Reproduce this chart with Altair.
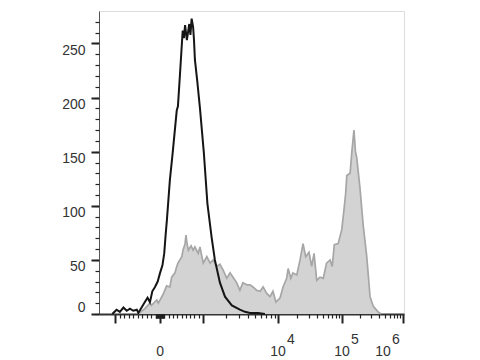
import math
import altair as alt
import pandas as pd

# ---- data (display channel 0..1024, event counts) ----
BLACK_CH = [45, 48, 59, 70, 82, 93, 104, 115, 127, 132, 143, 154, 163, 171, 179, 188, 197, 205, 213, 219,
            224, 228, 238, 247, 261, 265, 272, 281, 285, 289, 295, 303, 307, 311, 316, 319, 322, 330, 339,
            352, 364, 378, 389, 406, 423, 446, 473, 490, 507, 534, 557]
BLACK_COUNT = [0, 1, 4, 2, 6, 3, 5, 3, 4, 1, 6, 11, 15, 11, 21, 25, 30, 38, 45, 56,
               74, 87, 124, 148, 188, 192, 222, 262, 255, 267, 253, 268, 258, 273, 265, 253, 235, 215, 190,
               149, 102, 71, 50, 29, 16, 8, 4, 2, 1, 1, 0]

GRAY_CH = [131, 154, 171, 176, 194, 199, 215, 227, 238, 244, 255, 261, 265, 278, 282, 289, 292, 295, 300,
           309, 316, 322, 333, 339, 350, 362, 373, 383, 395, 406, 416, 429, 440, 450, 462, 473, 483, 496,
           507, 517, 529, 541, 551, 563, 574, 584, 594, 608, 618, 630, 635, 644, 651, 664, 675, 685, 694,
           705, 714, 722, 731, 742, 753, 764, 776, 783, 790, 803, 815, 822, 828, 832, 843, 849, 856, 861,
           865, 869, 876, 887, 899, 910, 921, 937, 947]
GRAY_COUNT = [0, 5, 10, 8, 13, 10, 18, 26, 25, 34, 38, 44, 47, 53, 59, 65, 73, 66, 59,
              63, 59, 62, 56, 62, 47, 53, 47, 50, 44, 46, 41, 33, 38, 34, 29, 22, 29, 27,
              27, 25, 22, 21, 25, 19, 16, 21, 11, 15, 25, 33, 42, 33, 38, 36, 50, 65, 53,
              57, 44, 56, 31, 34, 33, 47, 50, 44, 64, 65, 78, 95, 111, 128, 130, 150, 170, 150,
              145, 135, 117, 82, 53, 16, 7, 2, 0]

# ---- axis definitions ----
Y_MAJOR = [50, 100, 150, 200, 250]
Y_ZERO = [0]
Y_MINOR = list(range(0, 280, 10))

X_MAJOR_INTENSITY = [-1000, 0, 1000, 10000, 100000, 1000000]
X_MINOR_INTENSITY = ([-v for v in range(100, 1000, 100)] + [-v for v in range(10, 100, 10)]
                     + list(range(10, 100, 10)) + list(range(100, 1000, 100))
                     + list(range(2000, 10000, 1000)) + list(range(20000, 100000, 10000))
                     + list(range(200000, 1000000, 100000)))
ANCHOR_NEG, ANCHOR_ZERO, ANCHOR_POS = 54, 205, 349
DECADE_CH = {3: 349, 4: 601, 5: 816, 6: 1021}


def to_channel(v):
    if v <= 0:
        return round(ANCHOR_ZERO + v * (ANCHOR_ZERO - ANCHOR_NEG) / 1000.0, 1)
    if v <= 1000:
        return round(ANCHOR_ZERO + v * (ANCHOR_POS - ANCHOR_ZERO) / 1000.0, 1)
    lg = math.log10(v)
    d = min(int(math.floor(lg)), 5)
    return round(DECADE_CH[d] + (lg - d) * (DECADE_CH[d + 1] - DECADE_CH[d]), 1)


x_major_ch = [to_channel(v) for v in X_MAJOR_INTENSITY]
x_minor_ch = sorted(set(to_channel(v) for v in X_MINOR_INTENSITY) - set(x_major_ch))

LABEL_INTENSITY = [0, 10000, 100000]
LABEL_BASE = ["0", "10", "10"]
LABEL_EXP = ["", "4", "5"]
LAST_LABEL_INTENSITY = [1000000]
LAST_LABEL_BASE = ["10"]
LAST_LABEL_EXP = ["6"]

black_df = pd.DataFrame({"ch": BLACK_CH, "count": BLACK_COUNT})
gray_df = pd.DataFrame({"ch": GRAY_CH, "count": GRAY_COUNT})
lab_df = pd.DataFrame({"ch": [to_channel(v) for v in LABEL_INTENSITY], "base": LABEL_BASE, "exp": LABEL_EXP})
last_df = pd.DataFrame({"ch": [to_channel(v) for v in LAST_LABEL_INTENSITY], "base": LAST_LABEL_BASE,
                        "exp": LAST_LABEL_EXP})

FONT = "Liberation Sans"
TXT = "#333333"
W, H = 305, 303

xscale = alt.Scale(domain=[0, 1024], nice=False, zero=False)
yscale = alt.Scale(domain=[0, 280], nice=False, zero=True)

x_major_axis = alt.Axis(orient="bottom", values=x_major_ch, title=None, grid=False, labels=False,
                        tickSize=9, tickWidth=2, tickColor="#222222",
                        domainColor="#333333", domainWidth=2)
y_major_axis = alt.Axis(orient="left", values=Y_MAJOR, title=None, grid=False,
                        tickSize=8, tickWidth=2, tickColor="#222222",
                        domainColor="#555555", domainWidth=1,
                        labelFont=FONT, labelFontSize=14, labelColor=TXT, labelPadding=6,
                        labelBaseline="top", labelFlush=False)
x_minor_axis = alt.Axis(orient="bottom", values=x_minor_ch, title=None, grid=False, labels=False,
                        tickSize=4, tickWidth=1.2, tickColor="#222222", domain=False)
y_minor_axis = alt.Axis(orient="left", values=Y_MINOR, title=None, grid=False, labels=False,
                        tickSize=4, tickWidth=1.2, tickColor="#222222", domain=False)
y_zero_axis = alt.Axis(orient="left", values=Y_ZERO, title=None, grid=False,
                       tickSize=8, tickWidth=2, tickColor="#222222", domain=False,
                       labelFont=FONT, labelFontSize=14, labelColor=TXT, labelPadding=6,
                       labelBaseline="bottom", labelFlush=False)

gray_area = alt.Chart(gray_df).mark_area(color="#d3d3d3", opacity=1).encode(
    x=alt.X("ch:Q", scale=xscale, axis=x_major_axis),
    y=alt.Y("count:Q", scale=yscale, axis=y_major_axis),
)
gray_line = alt.Chart(gray_df).mark_line(color="#a6a6a6", strokeWidth=1.7).encode(
    x=alt.X("ch:Q", scale=xscale, axis=x_minor_axis),
    y=alt.Y("count:Q", scale=yscale, axis=y_minor_axis),
)
black_line = alt.Chart(black_df).mark_line(color="#151515", strokeWidth=2.0).encode(
    x=alt.X("ch:Q", scale=xscale, axis=None),
    y=alt.Y("count:Q", scale=yscale, axis=y_zero_axis),
)

base_txt = alt.Chart(lab_df).mark_text(font=FONT, fontSize=14, color=TXT, align="center",
                                       baseline="middle").encode(
    x=alt.X("ch:Q", scale=xscale, axis=None), y=alt.value(H + 38), text="base:N")
exp_txt = alt.Chart(lab_df).mark_text(font=FONT, fontSize=14, color=TXT, align="left", dx=9,
                                      baseline="middle").encode(
    x=alt.X("ch:Q", scale=xscale, axis=None), y=alt.value(H + 26), text="exp:N")
last_base = alt.Chart(last_df).mark_text(font=FONT, fontSize=14, color=TXT, align="center", dx=-20,
                                         baseline="middle").encode(
    x=alt.X("ch:Q", scale=xscale, axis=None), y=alt.value(H + 38), text="base:N")
last_exp = alt.Chart(last_df).mark_text(font=FONT, fontSize=14, color=TXT, align="left", dx=-11,
                                        baseline="middle").encode(
    x=alt.X("ch:Q", scale=xscale, axis=None), y=alt.value(H + 26), text="exp:N")

chart = alt.layer(gray_area, gray_line, black_line, base_txt, exp_txt, last_base, last_exp).resolve_axis(
    x="independent", y="independent"
).properties(
    width=W, height=H,
    autosize=alt.AutoSizeParams(type="none"),
    padding={"left": 99, "top": 11, "right": 76, "bottom": 46},
).configure_view(stroke="#8a8a8a", strokeWidth=1).configure(background="white")

chart.save("out.html", embed_options={"renderer": "svg", "actions": False})
